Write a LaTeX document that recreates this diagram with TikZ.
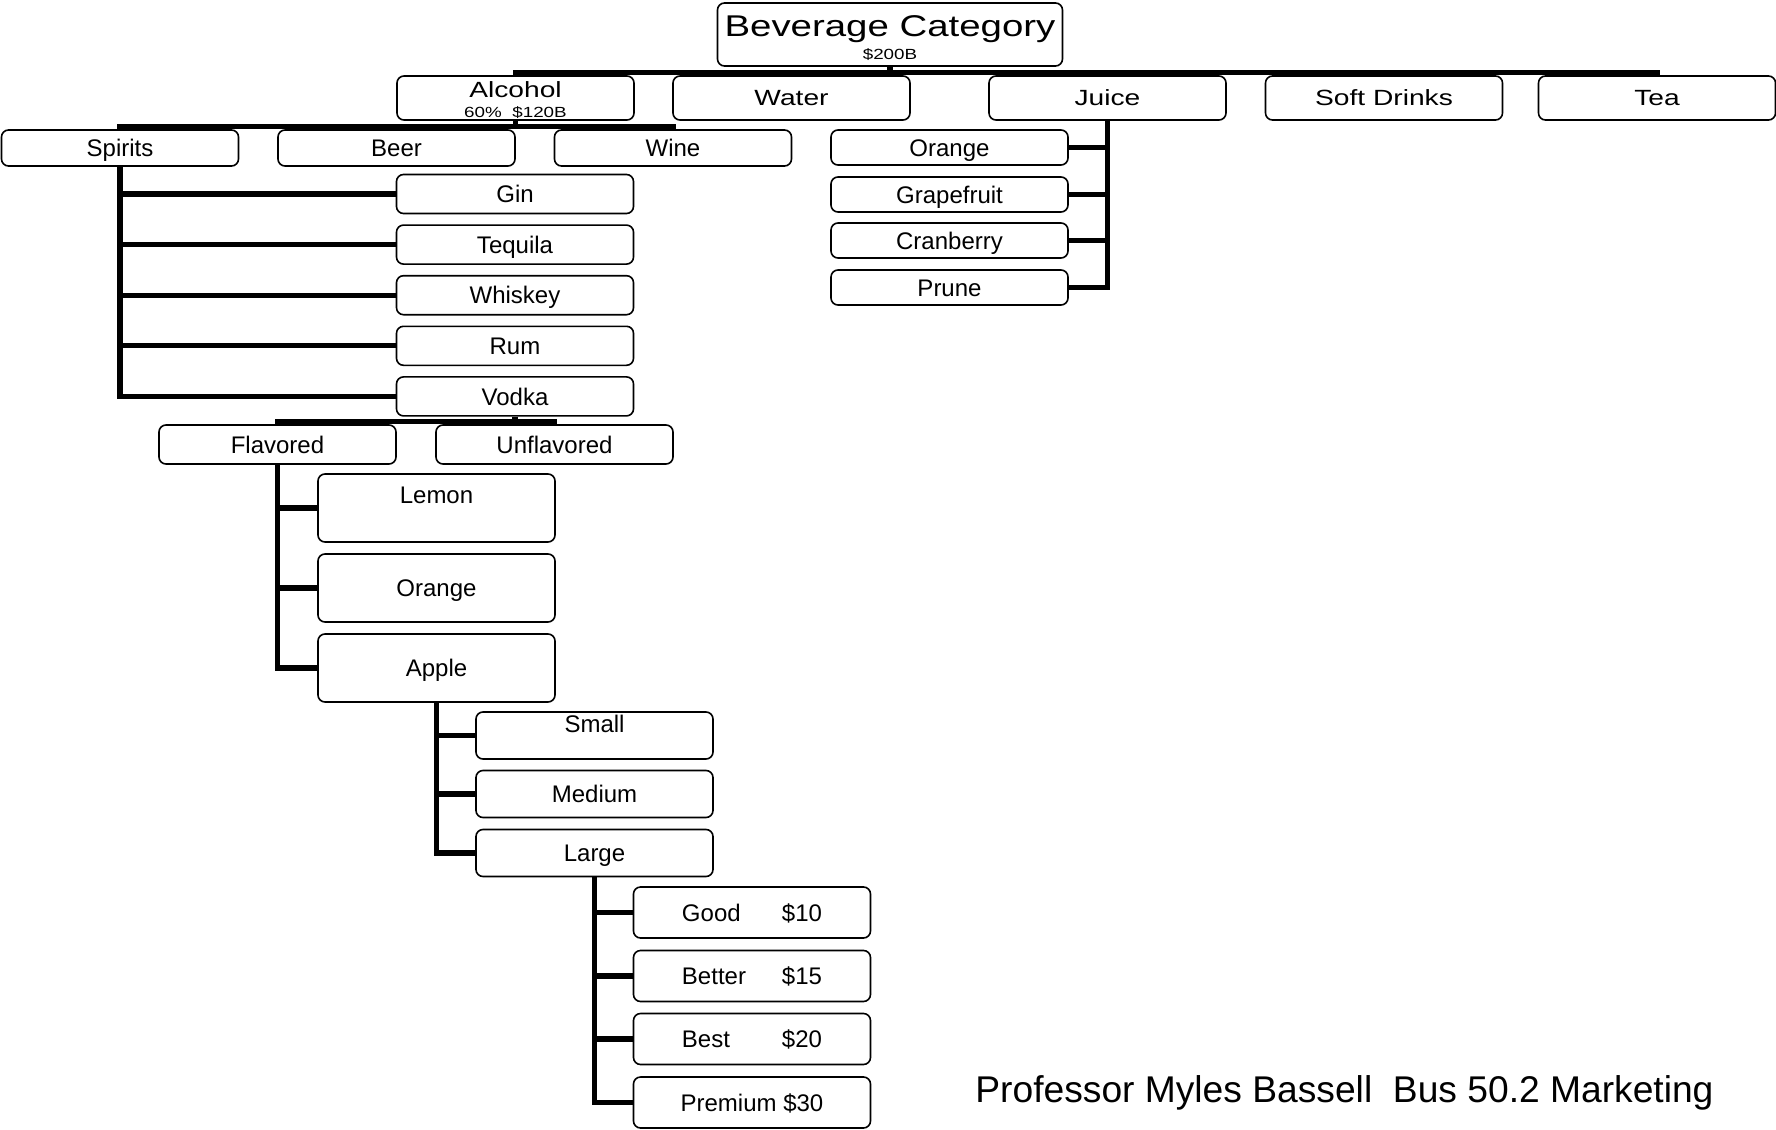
\documentclass[tikz,border=0pt]{standalone}
\usepackage{fontspec}
\setmainfont{Liberation Sans}
\newfontfamily\widefont[FakeStretch=1.28]{Liberation Sans}
\begin{document}
\begin{tikzpicture}[x=0.5pt,y=-0.5pt,
  catbox/.style={draw,line width=0.8pt,rounded corners=3.5pt,fill=white,inner sep=0pt,
    minimum width=118.5pt,text height=8.6pt,text depth=0pt,font=\fontsize{12}{14}\selectfont},
  topbox/.style={catbox,minimum height=22pt,text height=7.9pt,font=\widefont\fontsize{11}{13}\selectfont},
  subtxt/.style={inner sep=0pt,anchor=base,font=\widefont\fontsize{7.35}{9}\selectfont},
  link/.style={line width=2.6pt}]
  \useasboundingbox (0,0) rectangle (1776,1129);
  % top levels
  \node[catbox,minimum width=172.5pt,minimum height=31.5pt,text height=10.7pt,
    font=\widefont\fontsize{15}{18}\selectfont] (bev) at (890,34.5) {\raisebox{4.25pt}{Beverage Category}};
  \node[topbox] (alc) at (515.5,98) {\raisebox{4.25pt}{Alcohol}};
  \node[topbox] (water) at (791.5,98) {Water};
  \node[topbox] (juice) at (1107.5,98) {Juice};
  \node[topbox] (soft) at (1384,98) {Soft Drinks};
  \node[topbox] (tea) at (1657,98) {Tea};
  \node[subtxt] (bevsum) at (890,60) {\$200B};
  \node[subtxt] (alcsum) at (515.5,118) {60\%\ \ \$120B};
  % alcohol
  \node[catbox,minimum height=18pt] (spirits) at (120,148) {Spirits};
  \node[catbox,minimum height=18pt] (beer) at (396.5,148) {Beer};
  \node[catbox,minimum height=18pt] (wine) at (673,148) {Wine};
  % spirits
  \node[catbox,minimum height=19.5pt] (gin) at (515,194) {Gin};
  \node[catbox,minimum height=19.5pt] (tequila) at (515,244.6) {Tequila};
  \node[catbox,minimum height=19.5pt] (whiskey) at (515,295.2) {Whiskey};
  \node[catbox,minimum height=19.5pt] (rum) at (515,345.8) {Rum};
  \node[catbox,minimum height=19.5pt] (vodka) at (515,396.4) {Vodka};
  % vodka
  \node[catbox,minimum height=19.5pt] (flav) at (277.5,444.5) {Flavored};
  \node[catbox,minimum height=19.5pt] (unflav) at (554.5,444.5) {Unflavored};
  % flavored
  \node[catbox,minimum height=34pt] (lemon) at (436.5,508) {\raisebox{6.5pt}{Lemon}};
  \node[catbox,minimum height=34pt] (forange) at (436.5,588) {Orange};
  \node[catbox,minimum height=34pt] (apple) at (436.5,668) {Apple};
  % apple
  \node[catbox,minimum height=23.5pt] (small) at (594.5,735.5) {\raisebox{6pt}{Small}};
  \node[catbox,minimum height=23.5pt] (medium) at (594.5,794) {Medium};
  \node[catbox,minimum height=23.5pt] (large) at (594.5,853) {Large};
  % large
  \node[catbox,minimum height=25.5pt] (good) at (752,912.5) {\makebox[50pt][l]{Good}\$10};
  \node[catbox,minimum height=25.5pt] (better) at (752,976) {\makebox[50pt][l]{Better}\$15};
  \node[catbox,minimum height=25.5pt] (best) at (752,1039) {\makebox[50pt][l]{Best}\$20};
  \node[catbox,minimum height=25.5pt] (premium) at (752,1102.5) {Premium \$30};
  % juice
  \node[catbox,minimum height=17.5pt] (jorange) at (949.5,147.5) {Orange};
  \node[catbox,minimum height=17.5pt] (jgrape) at (949.5,194.5) {Grapefruit};
  \node[catbox,minimum height=17.5pt] (jcran) at (949.5,240.5) {Cranberry};
  \node[catbox,minimum height=17.5pt] (jprune) at (949.5,287.5) {Prune};
  % links
  \foreach \c in {alc,water,juice,soft,tea} \draw[link] (bev.south) -- ++(0,5.5) -| (\c.north);
  \foreach \c in {spirits,beer,wine} \draw[link] (alc.south) -- ++(0,5.5) -| (\c.north);
  \foreach \c in {gin,tequila,whiskey,rum,vodka} \draw[link] (spirits.south) |- (\c.west);
  \foreach \c in {flav,unflav} \draw[link] (vodka.south) -- ++(0,4.5) -| (\c.north);
  \foreach \c in {lemon,forange,apple} \draw[link] (flav.south) |- (\c.west);
  \foreach \c in {small,medium,large} \draw[link] (apple.south) |- (\c.west);
  \foreach \c in {good,better,best,premium} \draw[link] (large.south) |- (\c.west);
  \foreach \c in {jorange,jgrape,jcran,jprune} \draw[link] (juice.south) |- (\c.east);
  % footer
  \node[anchor=base west,inner sep=0pt,font=\fontsize{18.6}{22}\selectfont] (credit) at (975,1102)
    {Professor Myles Bassell\ \ Bus 50.2 Marketing};
\end{tikzpicture}
\end{document}
